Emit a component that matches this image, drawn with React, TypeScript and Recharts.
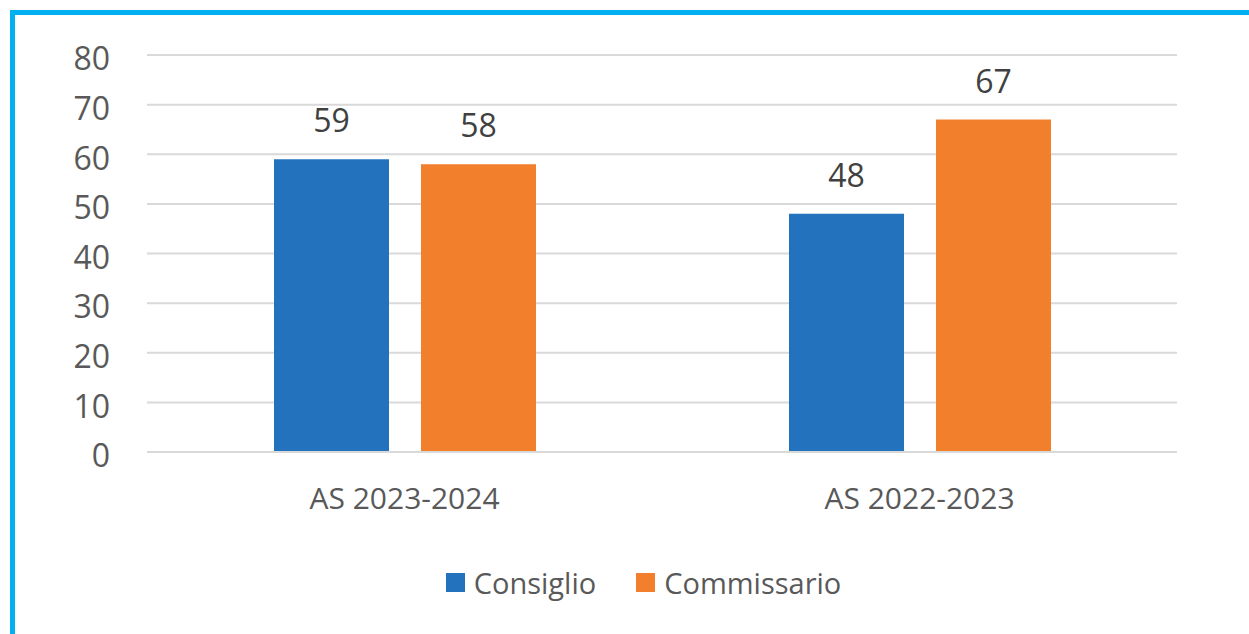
import React from "react";
import { BarChart, Bar, XAxis, YAxis, CartesianGrid, Legend, LabelList } from "recharts";

const categories = ["AS 2023-2024", "AS 2022-2023"];
const consiglio = [59, 48];
const commissario = [58, 67];
const yTicks = [0, 10, 20, 30, 40, 50, 60, 70, 80];
const seriesNames = ["Consiglio", "Commissario"];
const seriesColors = ["#2272BE", "#F17F2C"];

const data = categories.map((c, i) => ({
  name: c,
  Consiglio: consiglio[i],
  Commissario: commissario[i],
}));

const FONT = "'Open Sans', sans-serif";

const LegendContent = () => (
  <div
    style={{
      height: 40,
      display: "flex",
      justifyContent: "center",
      alignItems: "center",
      paddingLeft: 38,
      fontFamily: FONT,
      fontSize: 29,
      color: "#595959",
    }}
  >
    {seriesNames.map((n, i) => (
      <div key={n} style={{ display: "flex", alignItems: "center", marginLeft: i === 0 ? 0 : 40 }}>
        <div style={{ width: 19, height: 19, background: seriesColors[i], marginRight: 9 }} />
        <span>{n}</span>
      </div>
    ))}
  </div>
);

export default function App() {
  return (
    <div style={{ position: "absolute", left: 0, top: 0, width: 1249, height: 634, background: "#fff", overflow: "hidden" }}>
      <div
        style={{
          position: "absolute",
          left: 10,
          top: 10,
          width: 1239,
          height: 624,
          borderTop: "5px solid #00B0F0",
          borderLeft: "5px solid #00B0F0",
          boxSizing: "border-box",
        }}
      />
      <BarChart
        width={1249}
        height={634}
        data={data}
        margin={{ top: 55, right: 72, left: 47, bottom: 32 }}
        barGap={32}
        style={{ fontFamily: FONT }}
      >
        <CartesianGrid horizontal vertical={false} stroke="#D9D9D9" strokeWidth={2} />
        <XAxis
          dataKey="name"
          height={110}
          tickSize={0}
          tickMargin={36}
          axisLine={{ stroke: "#D9D9D9", strokeWidth: 2 }}
          tickLine={false}
          tick={{ fill: "#595959", fontSize: 30, fontFamily: FONT }}
        />
        <YAxis
          width={100}
          domain={[0, 80]}
          ticks={yTicks}
          interval={0}
          tickSize={0}
          tickMargin={37}
          axisLine={false}
          tickLine={false}
          tick={{ fill: "#595959", fontSize: 32, fontFamily: FONT, dy: 4 }}
        />
        <Legend verticalAlign="bottom" wrapperStyle={{ left: 0, width: 1249 }} content={<LegendContent />} />
        <Bar dataKey="Consiglio" fill={seriesColors[0]} barSize={115} isAnimationActive={false}>
          <LabelList dataKey="Consiglio" position="top" offset={27} fill="#404040" fontSize={32} fontFamily={FONT} />
        </Bar>
        <Bar dataKey="Commissario" fill={seriesColors[1]} barSize={115} isAnimationActive={false}>
          <LabelList dataKey="Commissario" position="top" offset={27} fill="#404040" fontSize={32} fontFamily={FONT} />
        </Bar>
      </BarChart>
    </div>
  );
}
